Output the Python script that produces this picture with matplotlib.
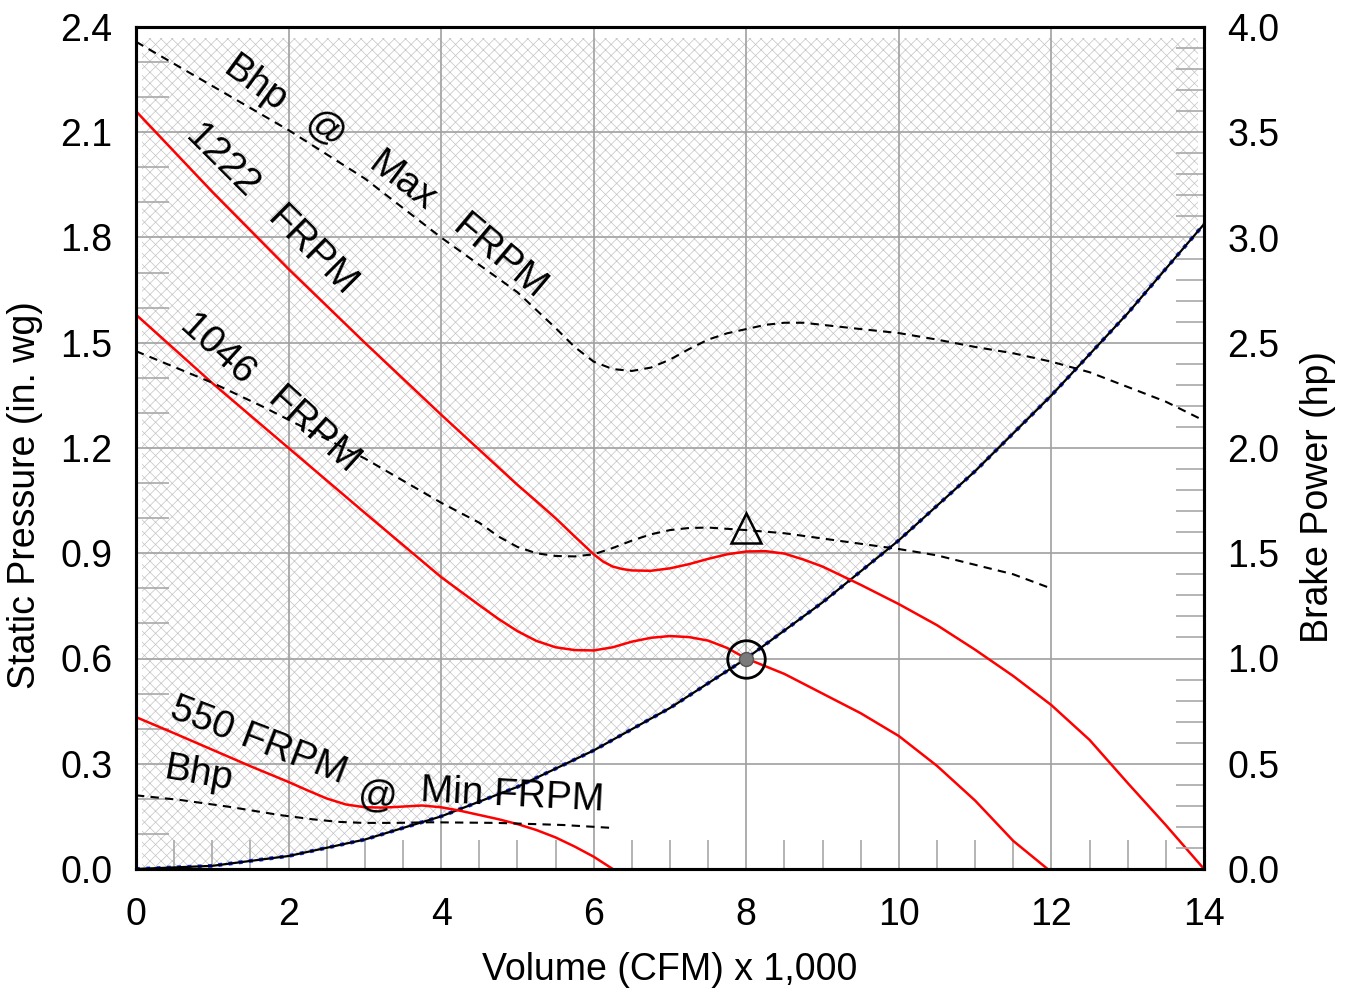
import matplotlib
matplotlib.use("Agg")
import matplotlib.pyplot as plt
from matplotlib.patches import Rectangle
from matplotlib.ticker import MultipleLocator, FormatStrFormatter

plt.rcParams["font.family"] = ["Liberation Sans", "DejaVu Sans"]
plt.rcParams["hatch.linewidth"] = 0.5

# ---- fan curves: static pressure (in. wg) vs volume (CFM x 1,000) ----
q_1222 = [0, 1, 2, 3, 4, 5, 5.25, 5.5, 5.75, 6, 6.125, 6.25, 6.375, 6.5, 6.75,
          7, 7.25, 7.5, 7.75, 8, 8.25, 8.5, 8.75, 9, 9.5, 10, 10.5, 11, 11.5,
          12, 12.5, 13, 13.5, 14]
sp_1222 = [2.16, 1.93, 1.71, 1.50, 1.295, 1.095, 1.048, 1.0, 0.948, 0.897,
           0.876, 0.862, 0.855, 0.851, 0.850, 0.857, 0.869, 0.884, 0.897, 0.905,
           0.906, 0.899, 0.882, 0.862, 0.81, 0.755, 0.695, 0.625, 0.55, 0.467,
           0.368, 0.245, 0.125, 0.0]

q_1046 = [0, 1, 2, 3, 4, 4.5, 4.75, 5, 5.25, 5.5, 5.75, 6, 6.25, 6.5, 6.75, 7,
          7.25, 7.5, 7.75, 8, 8.5, 9, 9.5, 10, 10.5, 11, 11.5, 11.95]
sp_1046 = [1.58, 1.385, 1.20, 1.015, 0.832, 0.752, 0.713, 0.678, 0.650, 0.632,
           0.624, 0.623, 0.632, 0.648, 0.659, 0.664, 0.661, 0.651, 0.630, 0.600,
           0.556, 0.500, 0.444, 0.379, 0.294, 0.195, 0.080, 0.0]

q_550 = [0, 0.5, 1, 1.5, 2, 2.25, 2.5, 2.75, 3, 3.25, 3.5, 3.75, 4, 4.25, 4.5,
         4.75, 5, 5.25, 5.5, 5.75, 6, 6.25]
sp_550 = [0.433, 0.387, 0.340, 0.293, 0.248, 0.224, 0.201, 0.184, 0.176, 0.175,
          0.178, 0.181, 0.176, 0.166, 0.154, 0.142, 0.128, 0.111, 0.090, 0.064,
          0.035, 0.0]

# ---- brake power curves (hp) ----
q_bhp_max = [0, 1, 2, 3, 4, 5, 5.5, 5.75, 6, 6.25, 6.5, 6.75, 7, 7.25, 7.5,
             7.75, 8, 8.25, 8.5, 8.75, 9, 9.5, 10, 10.5, 11, 11.5, 12, 12.5, 13,
             13.5, 14]
hp_bhp_max = [3.93, 3.72, 3.51, 3.28, 3.00, 2.74, 2.57, 2.48, 2.41, 2.375, 2.366,
              2.382, 2.42, 2.47, 2.515, 2.545, 2.565, 2.585, 2.595, 2.595, 2.585,
              2.565, 2.546, 2.515, 2.48, 2.45, 2.41, 2.36, 2.29, 2.22, 2.13]

q_bhp_1046 = [0, 1, 1.67, 3, 4, 4.5, 4.75, 5, 5.25, 5.5, 5.75, 6, 6.25, 6.5,
              6.75, 7, 7.25, 7.5, 8, 8.5, 9, 9.5, 10, 10.5, 11, 11.5, 11.98]
hp_bhp_1046 = [2.46, 2.31, 2.195, 1.95, 1.74, 1.645, 1.58, 1.53, 1.50, 1.487,
               1.485, 1.495, 1.525, 1.56, 1.59, 1.61, 1.62, 1.622, 1.61, 1.595,
               1.57, 1.545, 1.52, 1.49, 1.445, 1.40, 1.335]

q_bhp_550 = [0, 0.58, 1.23, 1.89, 2.32, 2.65, 2.98, 3.4, 3.85, 4.73, 5.6, 6.25]
hp_bhp_550 = [0.35, 0.328, 0.295, 0.256, 0.236, 0.224, 0.219, 0.219, 0.222,
              0.219, 0.209, 0.195]

# ---- system resistance curve ----
q_sys = [0, 1, 2, 3, 4, 5, 6, 7, 8, 9, 10, 11, 12, 13, 14]
sp_sys = [0.0, 0.009, 0.037, 0.084, 0.150, 0.234, 0.338, 0.459, 0.600, 0.760,
          0.937, 1.134, 1.350, 1.584, 1.838]

# operating point and its brake power
op_q, op_sp, op_hp = 8.0, 0.6, 1.622

x_ticks = [0, 2, 4, 6, 8, 10, 12, 14]
sp_ticks = [0.0, 0.3, 0.6, 0.9, 1.2, 1.5, 1.8, 2.1, 2.4]
hp_ticks = [0.0, 0.5, 1.0, 1.5, 2.0, 2.5, 3.0, 3.5, 4.0]

SP_TO_HP = 4.0 / 2.4

fig = plt.figure(figsize=(13.51, 9.92), dpi=100)
ax = fig.add_axes([136 / 1351, 1 - 869 / 992, (1204 - 136) / 1351, (869 - 27) / 992])
ax2 = ax.twinx()

ax.set_xlim(0, 14)
ax.set_ylim(0, 2.4)
ax2.set_ylim(0, 4.0)

# hatched zone above the system curve
sys_top = [2.4] * len(q_sys)
hatch = ax.fill_between(q_sys, sp_sys, sys_top, facecolor="none",
                        edgecolor="#c4c4c4", hatch="xxx", linewidth=0, zorder=1)
hatch.set_clip_path(Rectangle((0.08, 0), 13.84, 2.37, transform=ax.transData))

# grid
ax.set_xticks(x_ticks)
ax.set_yticks(sp_ticks)
ax2.set_yticks(hp_ticks)
ax.grid(True, which="major", color="#a0a0a0", linewidth=1.2)
ax.yaxis.set_major_formatter(FormatStrFormatter("%.1f"))
ax2.yaxis.set_major_formatter(FormatStrFormatter("%.1f"))

ax.xaxis.set_minor_locator(MultipleLocator(0.5))
ax.yaxis.set_minor_locator(MultipleLocator(0.1))
ax2.yaxis.set_minor_locator(MultipleLocator(0.1))

ax.tick_params(axis="x", which="major", length=0, pad=20, labelsize=27)
ax.tick_params(axis="y", which="major", length=0, pad=17, labelsize=27)
ax2.tick_params(axis="y", which="major", length=0, pad=17, labelsize=27)
ax.tick_params(axis="x", which="minor", direction="in", length=21, width=1.2,
               color="#a8a8a8", top=False)
ax.tick_params(axis="y", which="minor", direction="in", length=24, width=1.2,
               color="#a8a8a8", right=False)
ax2.tick_params(axis="y", which="minor", direction="in", length=20, width=1.2,
                color="#a8a8a8")

for a in (ax, ax2):
    for s in a.spines.values():
        s.set_linewidth(2.2)
        s.set_color("black")

# system curve
ax.plot(q_sys, sp_sys, color="#1030ff", linestyle=":", linewidth=2.8, zorder=3)
ax.plot(q_sys, sp_sys, color="black", linewidth=1.6, zorder=4)

# fan curves
for q, sp in ((q_1222, sp_1222), (q_1046, sp_1046), (q_550, sp_550)):
    ax.plot(q, sp, color="#ff0000", linewidth=1.8, zorder=5)

# brake power curves
for q, hp in ((q_bhp_max, hp_bhp_max), (q_bhp_1046, hp_bhp_1046),
              (q_bhp_550, hp_bhp_550)):
    ax2.plot(q, hp, color="black", linewidth=1.5, dashes=(4, 3), zorder=5)

# operating point markers
ax2.plot([op_q], [op_sp * SP_TO_HP], marker="o", markersize=27,
         markerfacecolor="none", markeredgecolor="black", markeredgewidth=2,
         linestyle="none", zorder=6)
ax2.plot([op_q], [op_sp * SP_TO_HP], marker="o", markersize=10,
         markerfacecolor="#7a7a7a", markeredgecolor="#555555",
         markeredgewidth=1, linestyle="none", zorder=7)
ax2.plot([op_q], [op_hp], marker="^", markersize=21, markerfacecolor="none",
         markeredgecolor="black", markeredgewidth=1.8, linestyle="none", zorder=7)

# curve labels
label_kw = dict(fontsize=28, ha="center", va="center", zorder=8)
ax2.text(1.56, 2.235 * SP_TO_HP, "Bhp", rotation=-36, **label_kw)
ax2.text(2.48, 2.106 * SP_TO_HP, "@", rotation=-36, **label_kw)
ax2.text(3.49, 1.958 * SP_TO_HP, "Max", rotation=-37, **label_kw)
ax2.text(4.77, 1.742 * SP_TO_HP, "FRPM", rotation=-40, **label_kw)

ax2.text(1.13, 2.015 * SP_TO_HP, "1222", rotation=-45, **label_kw)
ax2.text(2.31, 1.759 * SP_TO_HP, "FRPM", rotation=-45, **label_kw)

ax2.text(1.06, 1.477 * SP_TO_HP, "1046", rotation=-42, **label_kw)
ax2.text(2.33, 1.248 * SP_TO_HP, "FRPM", rotation=-42, **label_kw)

ax2.text(1.60, 0.365 * SP_TO_HP, "550 FRPM", rotation=-21, **label_kw)
ax2.text(0.83, 0.271 * SP_TO_HP, "Bhp", rotation=-10, **label_kw)
ax2.text(3.17, 0.205 * SP_TO_HP, "@", rotation=-4, **label_kw)
ax2.text(4.93, 0.208 * SP_TO_HP, "Min FRPM", rotation=-3, **label_kw)

# axis titles
fig.text(670 / 1351, 1 - 970 / 992, "Volume (CFM) x 1,000", fontsize=27,
         ha="center", va="center")
fig.text(25 / 1351, 1 - 495 / 992, "Static Pressure (in. wg)", fontsize=27,
         ha="center", va="center", rotation=90)
fig.text(1318 / 1351, 1 - 497 / 992, "Brake Power (hp)", fontsize=27,
         ha="center", va="center", rotation=90)

fig.savefig("out.png", dpi=100, facecolor="white")
